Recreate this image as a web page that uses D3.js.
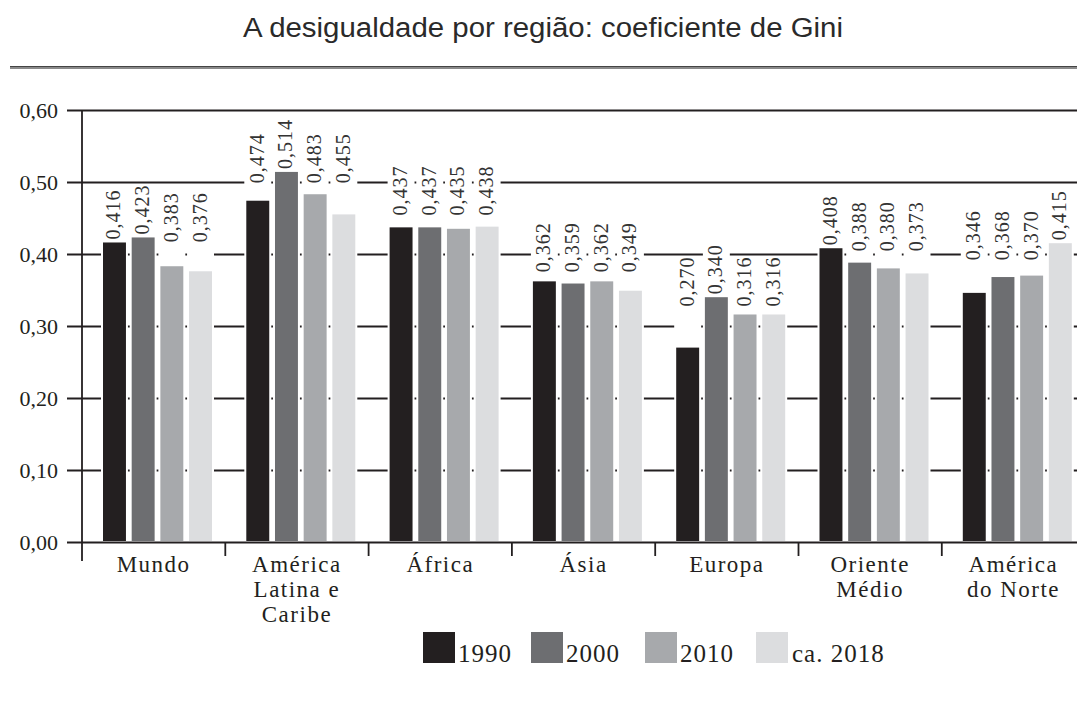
<!DOCTYPE html>
<html>
<head>
<meta charset="utf-8">
<script src="https://cdn.jsdelivr.net/npm/d3@7"></script>
<style>
  body { margin: 0; background: #fff; }
  svg { display: block; }
</style>
</head>
<body>
<div id="chart"></div>
<script>
// data
var regions = [["Mundo"], ["América", "Latina e", "Caribe"], ["África"], ["Ásia"], ["Europa"], ["Oriente", "Médio"], ["América", "do Norte"]];
var years = ["1990", "2000", "2010", "ca. 2018"];
var gini1990 = [0.416, 0.474, 0.437, 0.362, 0.270, 0.408, 0.346];
var gini2000 = [0.423, 0.514, 0.437, 0.359, 0.340, 0.388, 0.368];
var gini2010 = [0.383, 0.483, 0.435, 0.362, 0.316, 0.380, 0.370];
var gini2018 = [0.376, 0.455, 0.438, 0.349, 0.316, 0.373, 0.415];
var yTicks = [0, 0.1, 0.2, 0.3, 0.4, 0.5, 0.6];

var series = [gini1990, gini2000, gini2010, gini2018];
var colors = ["#231f20", "#6d6e71", "#a7a9ac", "#dcdddf"];
var ink = "#231f20";
var serif = "'Liberation Serif', 'DejaVu Serif', serif";

var width = 1077, height = 703;
var svg = d3.select("#chart").append("svg")
    .attr("width", width)
    .attr("height", height);

// title + rule
svg.append("text")
    .attr("x", 543)
    .attr("y", 37)
    .attr("text-anchor", "middle")
    .attr("font-family", "'Liberation Sans', Arial, sans-serif")
    .attr("font-size", 27)
    .attr("textLength", 600)
    .attr("lengthAdjust", "spacingAndGlyphs")
    .attr("fill", "#2a2a2a")
    .text("A desigualdade por região: coeficiente de Gini");
svg.append("rect").attr("x", 10).attr("y", 66).attr("width", width - 10).attr("height", 3).attr("fill", "#8a8a8a");
svg.append("line").attr("x1", 10).attr("x2", width).attr("y1", 66.5).attr("y2", 66.5).attr("stroke", "#444").attr("stroke-width", 1);

// scales
var axisX = 82;
var y = d3.scaleLinear().domain([0, 0.6]).range([542, 110]);
var x0 = d3.scaleBand().domain(d3.range(regions.length)).range([axisX, axisX + 7 * 143.3]);
var x1 = d3.scaleBand().domain(d3.range(years.length)).range([21, 130]).paddingInner(0.2);

// gridlines
var grid = svg.append("g").attr("transform", `translate(${axisX},0)`)
    .call(d3.axisLeft(y).tickValues(yTicks).tickSize(-(width - 68))
        .tickFormat(d => d3.format(".2f")(d).replace(".", ",")));
grid.select(".domain").remove();
grid.selectAll(".tick line")
    .attr("x1", 67 - axisX)
    .attr("x2", width - axisX)
    .attr("stroke", ink)
    .attr("stroke-width", 1.8);
grid.selectAll(".tick text")
    .attr("x", 58 - axisX)
    .attr("font-family", serif)
    .attr("font-size", 22)
    .attr("fill", ink);

// bars
var cells = [];
regions.forEach((r, i) => {
    var mean = d3.mean(series, s => s[i]);
    series.forEach((s, k) => cells.push({ i: i, k: k, v: s[i], mean: mean }));
});
cells.forEach(d => {
    d.x = x0(d.i) + x1(d.k);
    d.labelY = Math.min(y(d.v) - 3, y(d.mean) - 12);
});

var bw = x1.bandwidth();
var g = svg.append("g");

// white columns behind bars and labels (break the gridlines)
g.selectAll(".back").data(cells).join("rect")
    .attr("class", "back")
    .attr("x", d => d.x - 2)
    .attr("width", bw + 4)
    .attr("y", d => d.labelY - 48)
    .attr("height", d => y(0) - 2 - (d.labelY - 48))
    .attr("fill", "#fff");

g.selectAll(".bar").data(cells).join("rect")
    .attr("class", "bar")
    .attr("x", d => d.x)
    .attr("width", bw)
    .attr("y", d => y(d.v))
    .attr("height", d => y(0) - y(d.v) - 1)
    .attr("fill", d => colors[d.k]);

g.selectAll(".val").data(cells).join("text")
    .attr("class", "val")
    .attr("transform", d => `translate(${d.x + bw / 2 + 6},${d.labelY}) rotate(-90)`)
    .attr("font-family", serif)
    .attr("font-size", 20)
    .attr("letter-spacing", 1)
    .attr("fill", "#333")
    .text(d => d3.format(".3f")(d.v).replace(".", ","));

// axes lines
svg.append("line")
    .attr("x1", axisX).attr("x2", axisX)
    .attr("y1", y(0.6)).attr("y2", 561)
    .attr("stroke", ink).attr("stroke-width", 1.8);
svg.selectAll(".sep").data(d3.range(1, regions.length)).join("line")
    .attr("class", "sep")
    .attr("x1", d => x0(d)).attr("x2", d => x0(d))
    .attr("y1", y(0)).attr("y2", 556)
    .attr("stroke", ink).attr("stroke-width", 1.8);

// category labels
svg.selectAll(".cat").data(regions).join("text")
    .attr("class", "cat")
    .attr("x", (d, i) => x0(i) + x0.bandwidth() / 2)
    .attr("y", 572)
    .attr("text-anchor", "middle")
    .attr("font-family", serif)
    .attr("font-size", 23)
    .attr("letter-spacing", 1.5)
    .attr("fill", ink)
    .selectAll("tspan").data(d => d).join("tspan")
    .attr("x", function () { return this.parentNode.getAttribute("x"); })
    .attr("dy", (d, j) => j === 0 ? 0 : 25)
    .text(d => d);

// legend
var legendX = [423, 531, 645, 756];
var legend = svg.selectAll(".leg").data(years).join("g")
    .attr("class", "leg")
    .attr("transform", (d, k) => `translate(${legendX[k]},632)`);
legend.append("rect")
    .attr("width", 32).attr("height", 31)
    .attr("fill", (d, k) => colors[k]);
legend.append("text")
    .attr("x", (d, k) => k === 3 ? 36 : 35)
    .attr("y", 30)
    .attr("font-family", serif)
    .attr("font-size", 25)
    .attr("letter-spacing", 1)
    .attr("fill", ink)
    .text(d => d);
</script>
</body>
</html>
